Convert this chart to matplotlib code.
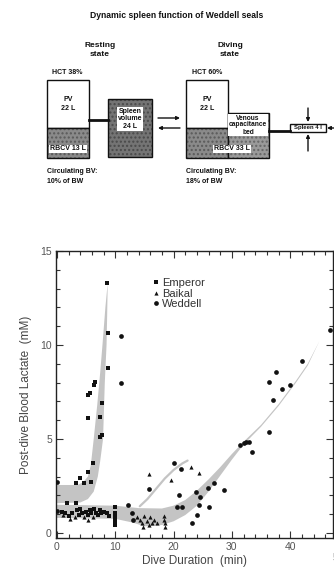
import matplotlib
matplotlib.use('Agg')
import matplotlib.pyplot as plt
from matplotlib.patches import Rectangle
from matplotlib.lines import Line2D

plt.rcParams['font.family'] = ['Liberation Sans', 'DejaVu Sans']

# ---------------- data ----------------
emperor_x = [8.6, 8.7, 8.7, 6.6, 6.3, 5.7, 5.4, 5.3, 7.7, 7.3, 7.4, 7.7, 6.2, 5.3, 5.8, 3.9, 3.3, 4.6,
             0.9, 1.4, 1.7, 2.0, 2.6, 3.3, 3.4, 3.7, 4.0, 4.3, 4.9, 5.3, 5.6, 5.8, 6.4, 6.7, 7.0, 7.3,
             7.5, 8.0, 8.5, 8.9, 10.0, 10.0, 10.0, 10.0, 10.0]
emperor_y = [13.3, 10.66, 8.76, 8.05, 7.87, 7.43, 7.34, 6.1, 6.9, 6.19, 5.12, 5.2, 3.7, 3.23, 2.73, 2.9,
             2.64, 2.64,
             1.13, 1.05, 1.58, 0.9, 1.08, 1.58, 1.22, 0.96, 1.26, 1.05, 1.13, 0.96, 1.22, 1.05, 1.26, 1.08,
             0.96, 1.22, 1.05, 1.13, 1.05, 0.9, 1.4, 1.08, 0.87, 0.66, 0.43]

baikal_x = [1.1, 2.3, 3.1, 4.6, 5.4, 6.2, 15.7, 19.5, 22.9, 24.4, 13.7, 14.3, 15.0, 15.4, 16.0, 16.6, 17.1,
            18.3, 18.4, 18.5, 18.6, 14.6, 14.7, 15.7, 16.3]
baikal_y = [0.96, 0.73, 0.83, 0.83, 0.69, 0.87, 3.12, 2.82, 3.53, 3.2, 0.83, 0.69, 0.9, 0.66, 0.83, 0.69, 0.55,
            0.9, 0.69, 0.51, 0.34, 0.51, 0.34, 0.43, 0.51]

weddell_x = [0.0, 0.0, 10.9, 11.0, 12.1, 12.9, 13.1, 15.8, 20.0, 21.3, 20.9, 20.5, 21.4, 23.8, 24.6, 24.3,
             24.0, 23.1, 25.9, 26.9, 26.0, 28.7, 31.4, 32.0, 32.5, 32.9, 33.4, 36.4, 36.4, 37.1, 37.5,
             38.6, 39.9, 42.0, 46.9]
weddell_y = [2.7, 1.17, 10.5, 7.96, 1.49, 1.05, 0.69, 2.32, 3.7, 3.4, 2.02, 1.4, 1.37, 2.2, 1.93, 1.47,
             0.96, 0.51, 2.38, 2.64, 1.37, 2.29, 4.68, 4.77, 4.86, 4.82, 4.33, 8.05, 5.39, 7.07, 8.58,
             7.64, 7.87, 9.15, 10.8]

# shaded bands (edge control points)
emp_up_x = [0.0, 3.5, 4.5, 5.3, 5.8, 6.3, 6.9, 7.4, 7.8, 8.3, 8.7]
emp_up_y = [2.55, 2.55, 2.7, 3.0, 3.6, 5.0, 6.8, 8.5, 10.0, 12.0, 13.3]
emp_lo_x = [8.7, 8.6, 8.5, 8.2, 7.9, 7.4, 7.0, 6.3, 5.3, 4.0, 0.0]
emp_lo_y = [13.3, 11.5, 10.0, 8.0, 5.0, 3.8, 3.0, 2.2, 1.8, 1.62, 1.58]

wed_up_x = [0, 10, 14, 18, 20, 22, 24, 26, 28, 30, 32, 35, 38, 41, 43, 45]
wed_up_y = [1.5, 1.45, 1.32, 1.3, 1.45, 1.75, 2.25, 2.85, 3.5, 4.2, 4.85, 5.75, 6.85, 8.1, 9.0, 10.2]
wed_lo_x = [45, 43, 41, 38, 35, 32, 30, 28, 26, 24, 22, 20, 18, 15, 13, 10, 0]
wed_lo_y = [10.2, 8.9, 8.0, 6.75, 5.65, 4.7, 3.9, 3.05, 2.2, 1.45, 0.95, 0.62, 0.42, 0.35, 0.55, 0.75, 0.8]

baik_line_x = [14.2, 15.5, 17.0, 18.5, 20.0, 21.5, 22.4]
baik_line_y = [1.42, 1.8, 2.35, 2.9, 3.35, 3.7, 3.85]

xticks = [0, 10, 20, 30, 40]
yticks = [0, 5, 10, 15]

# ---------------- figure ----------------
W, H = 334, 574
fig = plt.figure(figsize=(W / 100, H / 100), dpi=100)
fig.patch.set_facecolor('white')

d = fig.add_axes([0, 0, 1, 1])
d.set_xlim(0, W)
d.set_ylim(H, 0)
d.axis('off')

tk = dict(fontweight='bold', color='#111')
d.text(177, 15, 'Dynamic spleen function of Weddell seals', ha='center', va='center', fontsize=6.2, **tk)
d.text(100, 50, 'Resting\nstate', ha='center', va='center', fontsize=6, linespacing=1.4, **tk)
d.text(230, 50, 'Diving\nstate', ha='center', va='center', fontsize=6, linespacing=1.4, **tk)
d.text(52, 73, 'HCT 38%', ha='left', va='center', fontsize=5, **tk)
d.text(192, 73, 'HCT 60%', ha='left', va='center', fontsize=5, **tk)


def gray_box(x, y, w, h, fc, hc):
    d.add_patch(Rectangle((x, y), w, h, facecolor=fc, edgecolor=hc, hatch='....', lw=0))
    d.add_patch(Rectangle((x, y), w, h, facecolor='none', edgecolor='#111', lw=1))


# resting state
d.add_patch(Rectangle((47, 80), 42, 48, facecolor='white', edgecolor='#111', lw=1))
gray_box(47, 128, 42, 30, '#8a8a8a', '#5a5a5a')
d.plot([89, 108], [120, 120], color='#111', lw=2)
gray_box(108, 99, 44, 58, '#747474', '#4a4a4a')
# diving state
d.add_patch(Rectangle((186, 80), 42, 48, facecolor='white', edgecolor='#111', lw=1))
gray_box(186, 128, 42, 30, '#8a8a8a', '#5a5a5a')
gray_box(228, 113, 41, 45, '#9a9a9a', '#666666')
d.plot([269, 290], [131, 131], color='#111', lw=2)
d.add_patch(Rectangle((290, 124), 36, 8, facecolor='white', edgecolor='#111', lw=1))

wb = dict(boxstyle='square,pad=0.1', fc='white', ec='none')
d.text(68, 104, 'PV\n22 L', ha='center', va='center', fontsize=5, linespacing=1.4, **tk)
d.text(68, 149, 'RBCV 13 L', ha='center', va='center', fontsize=5, bbox=wb, **tk)
d.text(130, 119, 'Spleen\nvolume\n24 L', ha='center', va='center', fontsize=5, linespacing=1.1, bbox=wb, **tk)
d.text(207, 104, 'PV\n22 L', ha='center', va='center', fontsize=5, linespacing=1.4, **tk)
d.text(248, 125, 'Venous\ncapacitance\nbed', ha='center', va='center', fontsize=4.8, linespacing=1.0, bbox=wb, **tk)
d.text(232, 149, 'RBCV 33 L', ha='center', va='center', fontsize=5, bbox=wb, **tk)
d.text(308, 128, 'Spleen 4 l', ha='center', va='center', fontsize=4.3, **tk)
d.text(47, 168, 'Circulating BV:\n10% of BW', ha='left', va='top', fontsize=5, linespacing=1.6, **tk)
d.text(186, 168, 'Circulating BV:\n18% of BW', ha='left', va='top', fontsize=5, linespacing=1.6, **tk)

ap = dict(arrowstyle='-|>', color='#111', lw=1, mutation_scale=5, shrinkA=0, shrinkB=0)
d.annotate('', xy=(180, 118), xytext=(158, 118), arrowprops=ap)
d.annotate('', xy=(158, 128), xytext=(180, 128), arrowprops=ap)
d.annotate('', xy=(308, 122), xytext=(308, 108), arrowprops=ap)
d.annotate('', xy=(308, 134), xytext=(308, 151), arrowprops=ap)
d.annotate('', xy=(327, 128), xytext=(336, 128), arrowprops=ap)

# ---------------- scatter chart ----------------
ax = fig.add_axes([56 / W, (H - 538) / H, 277 / W, 287 / H])
ax.set_facecolor('white')
band = '#c4c4c4'
ax.fill(emp_up_x + emp_lo_x, emp_up_y + emp_lo_y, color=band, lw=0, zorder=1)
ax.fill(wed_up_x + wed_lo_x, wed_up_y + wed_lo_y, color=band, lw=0, zorder=1)
ax.plot(baik_line_x, baik_line_y, color=band, lw=1.6, zorder=1, solid_capstyle='round')

ax.plot(emperor_x, emperor_y, 's', color='#111', ms=2.6, mew=0, zorder=3)
ax.plot(baikal_x, baikal_y, '^', color='#111', ms=3.0, mew=0, zorder=3)
ax.plot(weddell_x, weddell_y, 'o', color='#111', ms=3.4, mew=0, zorder=3)

ax.set_xlim(-0.17, 47.34)
ax.set_ylim(-0.27, 15.0)
ax.set_xticks(xticks)
ax.set_yticks(yticks)
ax.set_xticks(range(0, 48, 2), minor=True)
ax.set_yticks(range(0, 16, 1), minor=True)
ax.tick_params(which='both', direction='in', top=True, right=True, colors='#333',
               labelcolor='#555', labelsize=7.5, width=0.8)
ax.tick_params(which='major', length=5, pad=3)
ax.tick_params(which='minor', length=3)
for s in ax.spines.values():
    s.set_color('#222')
    s.set_linewidth(1)
ax.text(48.2, -1.05, '50', ha='center', va='top', fontsize=7.5, color='#555', clip_on=False)

ax.set_xlabel('Dive Duration  (min)', fontsize=8.5, color='#444', labelpad=2)
ax.set_ylabel('Post-dive Blood Lactate  (mM)', fontsize=8.5, color='#444', labelpad=6)

handles = [Line2D([], [], ls='none', marker='s', color='#111', ms=2.6, mew=0),
           Line2D([], [], ls='none', marker='^', color='#111', ms=3.0, mew=0),
           Line2D([], [], ls='none', marker='o', color='#111', ms=3.4, mew=0)]
ax.legend(handles, ['Emperor', 'Baikal', 'Weddell'], loc='upper left', bbox_to_anchor=(0.33, 0.925),
          frameon=False, fontsize=8, handlelength=0.5, handletextpad=0.3, labelspacing=0.05,
          borderpad=0, labelcolor='#333')

fig.savefig('out.png', dpi=100, facecolor='white')
